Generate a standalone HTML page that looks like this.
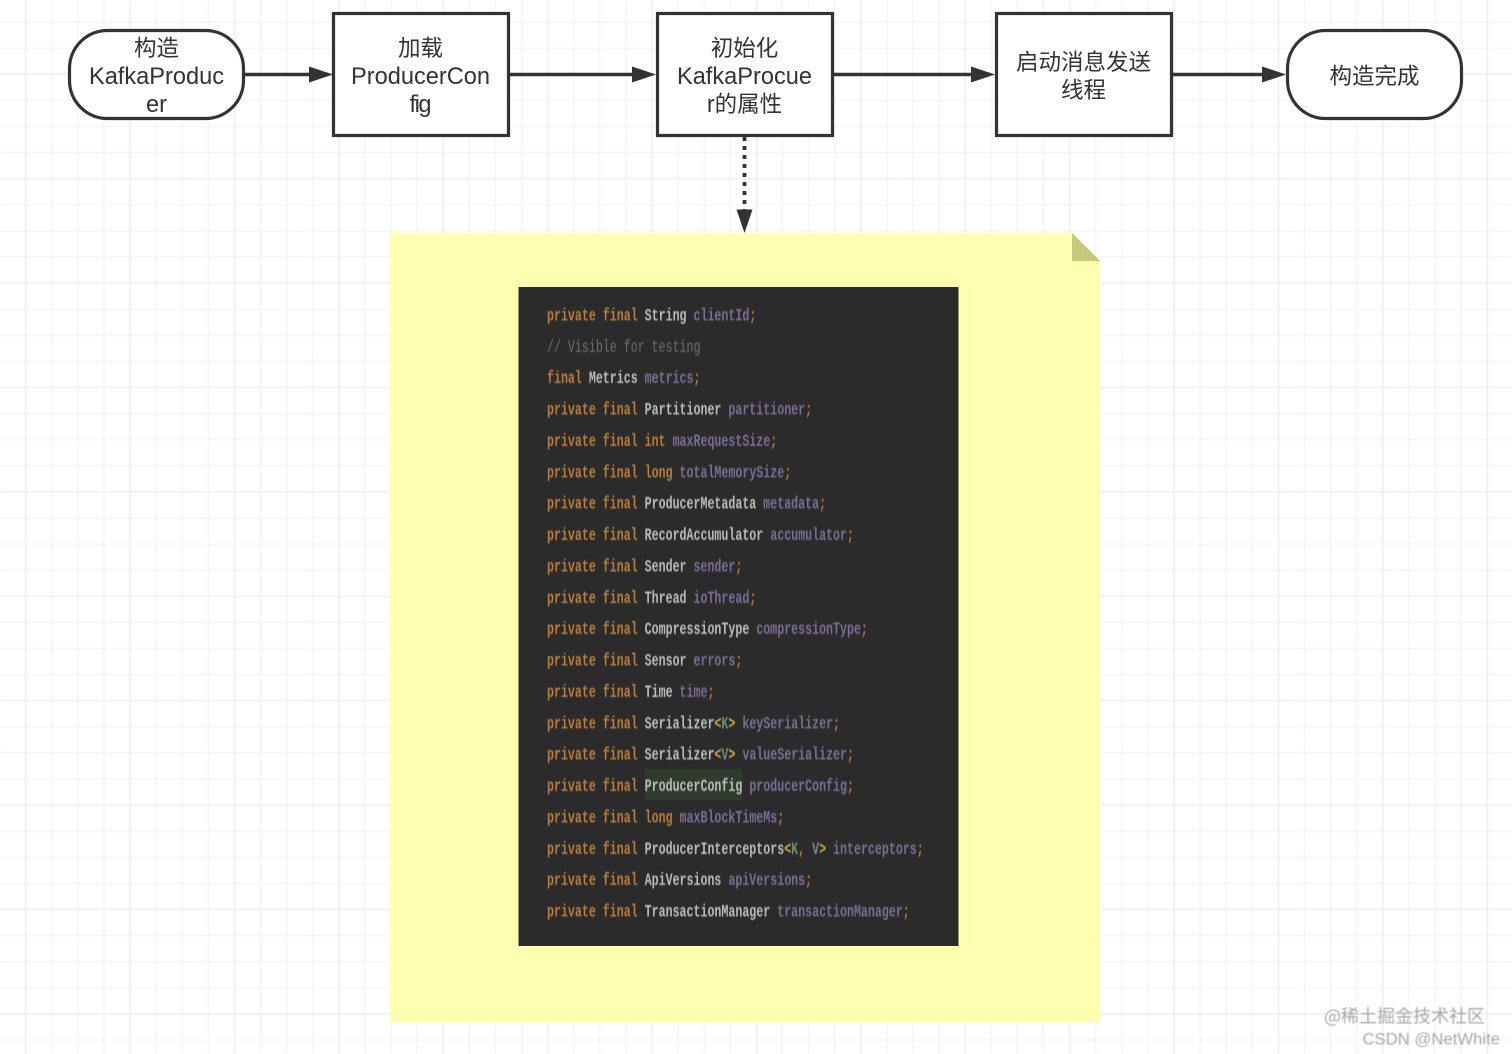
<!DOCTYPE html>
<html><head><meta charset="utf-8">
<style>
html,body{margin:0;padding:0;width:1512px;height:1054px;overflow:hidden;background:#fff}
svg{position:absolute;left:0;top:0}
.n{position:absolute;width:175px;text-align:center;font:23.6px/28px "Liberation Sans","Noto Sans CJK SC",sans-serif;color:#333}
.n div{height:28px;line-height:28px;white-space:nowrap}
.n b{font-weight:400;font-size:22.5px;font-family:"Noto Sans CJK SC",sans-serif;line-height:20px}
.c text{font:bold 18px "Liberation Mono",monospace;fill:#babdbb;white-space:pre}
.k{fill:#b97d3d}.f{fill:#7b6d93}.g{fill:#6f8a78}.m{fill:#6e6e6e;font-weight:400}.y{fill:#c9a94a}
</style></head><body>
<svg width="1512" height="1054" viewBox="0 0 1512 1054" xmlns="http://www.w3.org/2000/svg">
<defs>
<pattern id="g1" width="26.1" height="26.1" patternUnits="userSpaceOnUse" x="25" y="21.5"><path d="M.5 0V26.1M0 .5H26.1" stroke="#f2f2f2" stroke-width="1.500" fill="none"/></pattern>
<pattern id="g2" width="104.4" height="104.4" patternUnits="userSpaceOnUse" x="25" y="73.5"><path d="M.5 0V104.4M0 .5H104.4" stroke="#ebebeb" stroke-width="1.600" fill="none"/></pattern>
<filter id="b"><feGaussianBlur stdDeviation="0.45"/></filter>
<filter id="s"><feGaussianBlur stdDeviation="0.6"/></filter>
</defs>
<g filter="url(#s)">
<rect width="1512" height="1054" fill="url(#g1)"/>
<rect width="1512" height="1054" fill="url(#g2)"/>
</g>

<path d="M390 233H1072L1100 261V1022H390Z" fill="#ffffb0"/>
<path d="M1072 233L1100 261H1072Z" fill="#c8c87c"/>
<rect x="518.500" y="287" width="440" height="659" fill="#2b2b2b"/>
<rect x="645" y="769" width="97" height="31" fill="#303b2e"/>

<g fill="#fff" stroke="#333" stroke-width="3.200">
<rect x="69.500" y="30.500" width="174" height="88" rx="38" ry="38"/>
<rect x="333.500" y="13.500" width="175" height="122"/>
<rect x="657.500" y="13.500" width="175" height="122"/>
<rect x="996.500" y="13.500" width="175" height="122"/>
<rect x="1287.500" y="30.500" width="174" height="88" rx="38" ry="38"/>
</g>
<g stroke="#333" stroke-width="3.400" fill="none">
<path d="M244 74.500H312"/><path d="M508 74.500H636"/><path d="M832 74.500H975"/><path d="M1171 74.500H1265"/>
<path d="M744.500 137V211" stroke-width="3.800" stroke-dasharray="4 5"/>
</g>
<g fill="#333">
<path d="M309 66.500L333 74.500L309 82.500Z"/><path d="M632 66.500L656 74.500L632 82.500Z"/><path d="M971 66.500L995 74.500L971 82.500Z"/><path d="M1262 66.500L1286 74.500L1262 82.500Z"/>
<path d="M736.500 209.500L752.500 209.500L744.500 233Z"/>
</g>

<g class="c" filter="url(#b)" transform="translate(547 -0.500) scale(.6465 1)">
<text y="321"><tspan class="k">private final </tspan>String <tspan class="f">clientId</tspan><tspan class="k">;</tspan></text>
<text y="352.400"><tspan class="m">// Visible for testing</tspan></text>
<text y="383.700"><tspan class="k">final </tspan>Metrics <tspan class="f">metrics</tspan><tspan class="k">;</tspan></text>
<text y="415.100"><tspan class="k">private final </tspan>Partitioner <tspan class="f">partitioner</tspan><tspan class="k">;</tspan></text>
<text y="446.500"><tspan class="k">private final int </tspan><tspan class="f">maxRequestSize</tspan><tspan class="k">;</tspan></text>
<text y="477.900"><tspan class="k">private final long </tspan><tspan class="f">totalMemorySize</tspan><tspan class="k">;</tspan></text>
<text y="509.200"><tspan class="k">private final </tspan>ProducerMetadata <tspan class="f">metadata</tspan><tspan class="k">;</tspan></text>
<text y="540.600"><tspan class="k">private final </tspan>RecordAccumulator <tspan class="f">accumulator</tspan><tspan class="k">;</tspan></text>
<text y="572"><tspan class="k">private final </tspan>Sender <tspan class="f">sender</tspan><tspan class="k">;</tspan></text>
<text y="603.300"><tspan class="k">private final </tspan>Thread <tspan class="f">ioThread</tspan><tspan class="k">;</tspan></text>
<text y="634.700"><tspan class="k">private final </tspan>CompressionType <tspan class="f">compressionType</tspan><tspan class="k">;</tspan></text>
<text y="666.100"><tspan class="k">private final </tspan>Sensor <tspan class="f">errors</tspan><tspan class="k">;</tspan></text>
<text y="697.400"><tspan class="k">private final </tspan>Time <tspan class="f">time</tspan><tspan class="k">;</tspan></text>
<text y="728.800"><tspan class="k">private final </tspan>Serializer<tspan class="y">&lt;</tspan><tspan class="g">K</tspan><tspan class="y">&gt;</tspan> <tspan class="f">keySerializer</tspan><tspan class="k">;</tspan></text>
<text y="760.200"><tspan class="k">private final </tspan>Serializer<tspan class="y">&lt;</tspan><tspan class="g">V</tspan><tspan class="y">&gt;</tspan> <tspan class="f">valueSerializer</tspan><tspan class="k">;</tspan></text>
<text y="791.600"><tspan class="k">private final </tspan>ProducerConfig <tspan class="f">producerConfig</tspan><tspan class="k">;</tspan></text>
<text y="822.900"><tspan class="k">private final long </tspan><tspan class="f">maxBlockTimeMs</tspan><tspan class="k">;</tspan></text>
<text y="854.300"><tspan class="k">private final </tspan>ProducerInterceptors<tspan class="y">&lt;</tspan><tspan class="g">K</tspan><tspan class="k">, </tspan><tspan class="g">V</tspan><tspan class="y">&gt;</tspan> <tspan class="f">interceptors</tspan><tspan class="k">;</tspan></text>
<text y="885.700"><tspan class="k">private final </tspan>ApiVersions <tspan class="f">apiVersions</tspan><tspan class="k">;</tspan></text>
<text y="917"><tspan class="k">private final </tspan>TransactionManager <tspan class="f">transactionManager</tspan><tspan class="k">;</tspan></text>
</g>

<text x="1324" y="1022.500" font-family="'Noto Sans CJK SC',sans-serif" font-size="18" fill="#a8a8a8" filter="url(#b)">@稀土掘金技术社区</text>
<text x="1500" y="1044.500" text-anchor="end" font-family="'Liberation Sans',sans-serif" font-size="16.700" fill="#a8a8a8" filter="url(#b)">CSDN @NetWhite</text>
</svg>

<div class="n" style="left:69px;top:35px"><div><b>构造</b></div><div>KafkaProduc</div><div>er</div></div>
<div class="n" style="left:333px;top:35px"><div><b>加载</b></div><div>ProducerCon</div><div><span style="letter-spacing:-1.500px">fi</span>g</div></div>
<div class="n" style="left:657px;top:35px"><div><b>初始化</b></div><div>KafkaProcue</div><div>r<b>的属性</b></div></div>
<div class="n" style="left:996px;top:49px"><div><b>启动消息发送</b></div><div><b>线程</b></div></div>
<div class="n" style="left:1287px;top:63px"><div><b>构造完成</b></div></div>
</body></html>
